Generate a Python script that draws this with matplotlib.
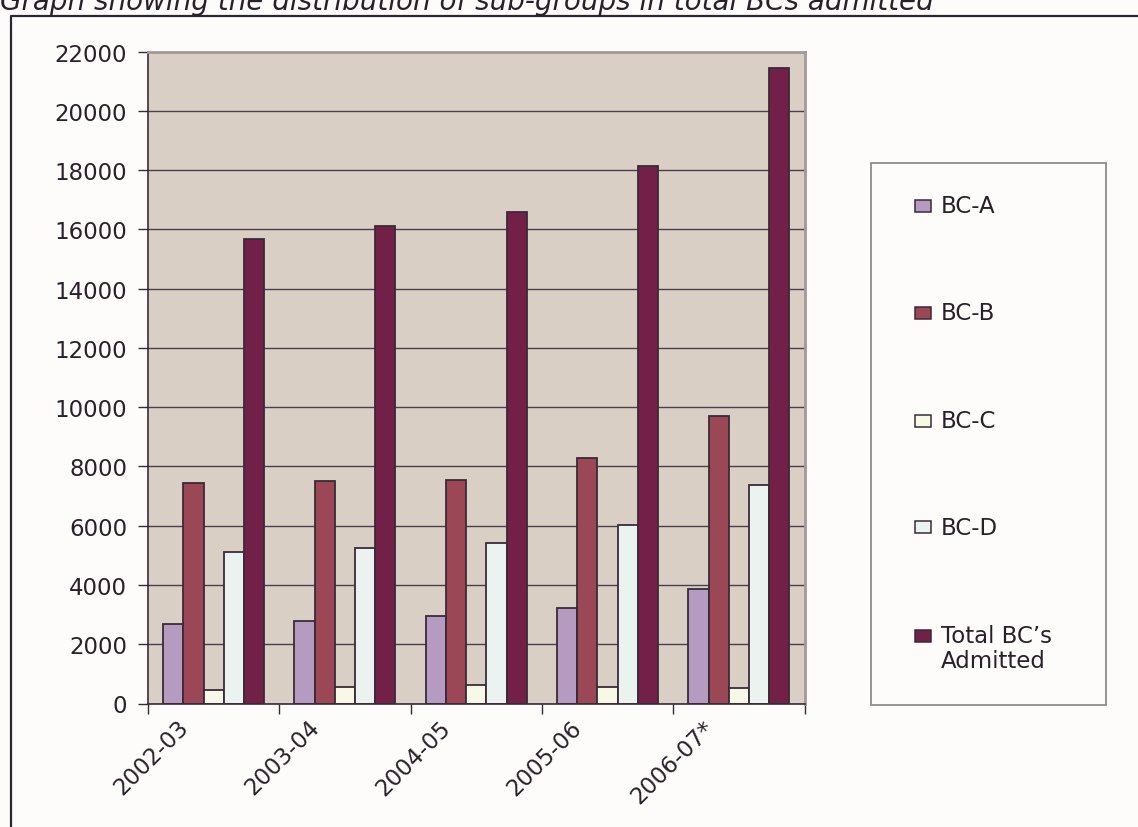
import matplotlib
matplotlib.use('Agg')
import matplotlib.pyplot as plt
from matplotlib.patches import Rectangle
from matplotlib.lines import Line2D
from matplotlib import transforms
import numpy as np

# ---------------- data ----------------
title = "Graph showing the distribution of sub-groups in total BCs admitted"
years = ['2002-03', '2003-04', '2004-05', '2005-06', '2006-07*']
bc_a = [2680, 2790, 2960, 3240, 3860]
bc_b = [7450, 7505, 7550, 8295, 9690]
bc_c = [450, 560, 620, 565, 510]
bc_d = [5110, 5255, 5430, 6020, 7390]
total = [15670, 16120, 16580, 18135, 21435]
series_names = ['BC-A', 'BC-B', 'BC-C', 'BC-D', 'Total BC\u2019s\nAdmitted']
yticks = list(range(0, 22001, 2000))

# ---------------- style ----------------
colors = ['#b49bbf', '#9b4756', '#f8f8e6', '#eaf3f0', '#722048']
edge = '#3a2a38'
text_c = '#2a202a'
fig_bg = '#fdfcfb'
plot_bg = '#d9cfc5'
FONT = 'DejaVu Sans'

W, H = 1138, 828
fig = plt.figure(figsize=(W / 100, H / 100), dpi=100, facecolor=fig_bg)


def fx(px):
    return px / W


def fy(py):
    return 1 - py / H


ax = fig.add_axes([fx(148), fy(704.5), fx(804.5) - fx(148), fy(52.7) - fy(704.5)])
ax.set_facecolor(plot_bg)

series = [bc_a, bc_b, bc_c, bc_d, total]
n = len(series)
bw = 1 / 6.5
x = np.arange(len(years))
for j, (vals, col) in enumerate(zip(series, colors)):
    ax.bar(x + (j - (n - 1) / 2) * bw, vals, width=bw, color=col,
           edgecolor=edge, linewidth=1.3, zorder=3)

ax.set_xlim(-0.5, len(years) - 0.5)
ax.set_ylim(0, 22000)
ax.set_yticks(yticks)
ax.set_yticklabels([str(v) for v in yticks], fontsize=16.5, family=FONT, color=text_c)
ax.yaxis.grid(True, color='#4b3f4a', linewidth=1.0, zorder=1)
ax.set_axisbelow(True)
ax.tick_params(axis='y', length=7, width=1.0, color=edge, pad=8)

ax.set_xticks(np.arange(-0.5, len(years), 1.0))
ax.set_xticklabels([])
ax.tick_params(axis='x', length=7, width=1.0, color=edge, direction='out')

for s in ['left', 'bottom']:
    ax.spines[s].set_color(edge)
    ax.spines[s].set_linewidth(1.2)
    ax.spines[s].set_zorder(4)
for s in ['top', 'right']:
    ax.spines[s].set_color('#a29a98')
    ax.spines[s].set_linewidth(2.0)
    ax.spines[s].set_zorder(4)

# rotated category labels
trans = transforms.blended_transform_factory(ax.transData, ax.transAxes)
off = transforms.ScaledTranslation(0, -20 / 100, fig.dpi_scale_trans)
for i, lab in enumerate(years):
    ax.text(i - 0.22, 0, lab, transform=trans + off, rotation=45,
            rotation_mode='anchor', ha='right', va='center',
            fontsize=16.5, family=FONT, color=text_c)

# title (partly cut at the top, as in the reference)
fig.text(0.0, fy(10), title, fontsize=20, family=FONT, fontstyle='italic',
         color=text_c, ha='left', va='baseline')

# outer chart frame
fig.add_artist(Line2D([fx(10.5), fx(10.5), 1.0], [0.0, fy(16.7), fy(16.7)],
                      transform=fig.transFigure, color='#2e2530', linewidth=1.6))

# legend box (drawn manually to reproduce the wide spacing)
fig.add_artist(Rectangle((fx(870.7), fy(705.7)), fx(1106) - fx(870.7), fy(164.3) - fy(705.7),
                         transform=fig.transFigure, facecolor=fig_bg,
                         edgecolor='#8f8a8c', linewidth=1.3))
rows = [206.7, 314.0, 421.7, 528.3, 636.7]
for name, col, ry in zip(series_names, colors, rows):
    fig.add_artist(Rectangle((fx(915), fy(ry + 6)), fx(16), 12 / H,
                             transform=fig.transFigure, facecolor=col,
                             edgecolor=edge, linewidth=1.1))
    if '\n' in name:
        fig.text(fx(941), fy(ry - 12), name, fontsize=16.5, family=FONT, color=text_c,
                 ha='left', va='top', linespacing=1.15)
    else:
        fig.text(fx(941), fy(ry), name, fontsize=16.5, family=FONT, color=text_c,
                 ha='left', va='center')

fig.savefig('out.png', dpi=100, facecolor=fig_bg)
